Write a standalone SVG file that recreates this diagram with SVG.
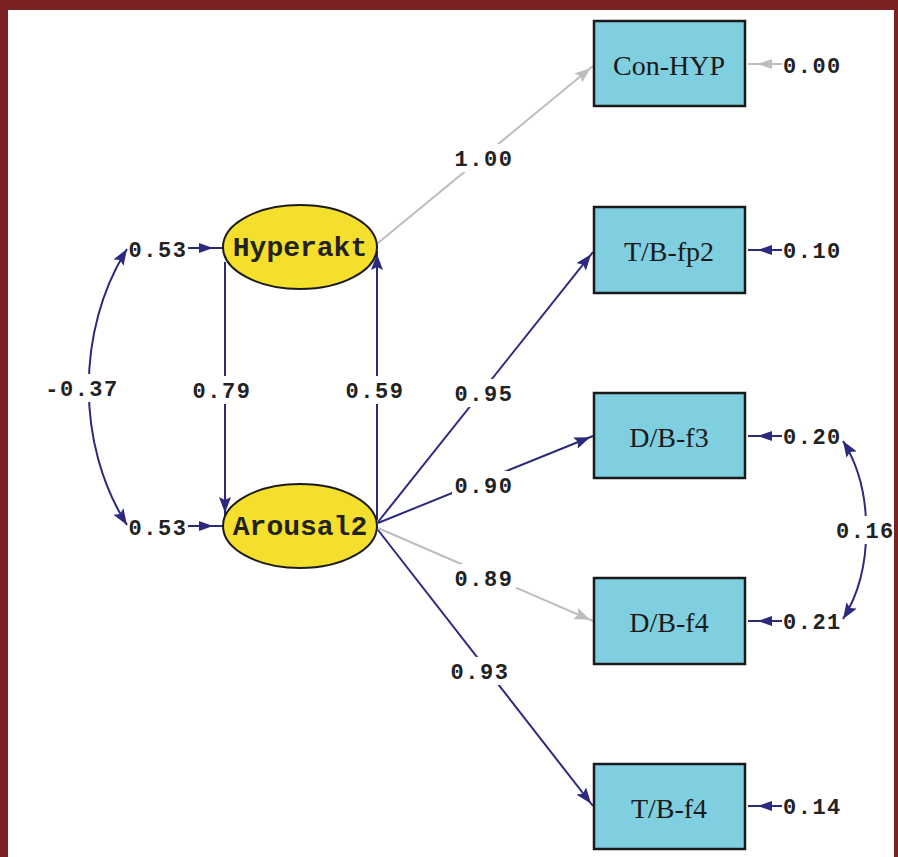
<svg xmlns="http://www.w3.org/2000/svg" width="898" height="857" viewBox="0 0 898 857">
  <style>
    .obs rect { fill: #80cfe0; stroke: #1a1a1a; stroke-width: 2.5; }
    .obs text { font-family: "Liberation Serif", "Times New Roman", serif; font-size: 28px; fill: #1a1a1a; text-anchor: middle; }
    .lat ellipse { fill: #f4e02c; stroke: #1a1a1a; stroke-width: 2; }
    .lat text { font-family: "Liberation Mono", "Courier New", monospace; font-weight: bold; font-size: 28px; fill: #222222; text-anchor: middle; }
    .num { font-family: "Liberation Mono", "Courier New", monospace; font-weight: bold; font-size: 22px; letter-spacing: 1.5px; fill: #222222; }
    .mid { text-anchor: middle; }
    .bg { fill: #ffffff; }
    .nv { stroke: #2b2a7e; stroke-width: 2; fill: none; }
    .gy { stroke: #bdbdbd; stroke-width: 2; fill: none; }
  </style>
  <defs>
    <!-- heads placed just short of the line end -->
    <marker id="hN" viewBox="0 0 22 12" markerUnits="userSpaceOnUse" markerWidth="22" markerHeight="12" refX="19" refY="6" orient="auto">
      <path d="M0,0 L16,6 L0,12 L3,6 z" fill="#2b2a7e"/>
    </marker>
    <marker id="hG" viewBox="0 0 22 12" markerUnits="userSpaceOnUse" markerWidth="22" markerHeight="12" refX="19" refY="6" orient="auto">
      <path d="M0,0 L16,6 L0,12 L3,6 z" fill="#bdbdbd"/>
    </marker>
    <!-- heads set back from the end (error terms) -->
    <marker id="eN" viewBox="0 0 26 10" markerUnits="userSpaceOnUse" markerWidth="26" markerHeight="10" refX="24" refY="5" orient="auto">
      <path d="M0,0 L14,5 L0,10 z" fill="#2b2a7e"/>
    </marker>
    <marker id="eG" viewBox="0 0 26 10" markerUnits="userSpaceOnUse" markerWidth="26" markerHeight="10" refX="24" refY="5" orient="auto">
      <path d="M0,0 L14,5 L0,10 z" fill="#bdbdbd"/>
    </marker>
    <!-- double-headed covariance arcs -->
    <marker id="cN" viewBox="0 0 18 12" markerUnits="userSpaceOnUse" markerWidth="18" markerHeight="12" refX="16" refY="6" orient="auto-start-reverse">
      <path d="M0,0 L16,6 L0,12 L3,6 z" fill="#2b2a7e"/>
    </marker>
  </defs>

  <!-- frame -->
  <rect x="0" y="0" width="898" height="857" fill="#7d2224"/>
  <rect x="8" y="10" width="886" height="847" fill="#ffffff"/>

  <!-- connectors -->
  <g id="connectors">
    <path class="gy" d="M378,243 L593,66" marker-end="url(#hG)"/>
    <path class="nv" d="M378,522 L593,252" marker-end="url(#hN)"/>
    <path class="nv" d="M378,523 L593,436" marker-end="url(#hN)"/>
    <path class="gy" d="M378,528 L593,621" marker-end="url(#hG)"/>
    <path class="nv" d="M378,530 L593,806" marker-end="url(#hN)"/>
    <path class="nv" d="M225,262 L225,516" marker-end="url(#hN)"/>
    <path class="nv" d="M377,520 L377,251" marker-end="url(#hN)"/>
    <path class="nv" d="M188,248 L223,248" marker-end="url(#eN)"/>
    <path class="nv" d="M188,526 L223,526" marker-end="url(#eN)"/>
    <path class="nv" d="M127,249 C76,330 76,445 127,525" marker-start="url(#cN)" marker-end="url(#cN)"/>
    <path class="gy" d="M782,64 L748,64" marker-end="url(#eG)"/>
    <path class="nv" d="M782,250 L748,250" marker-end="url(#eN)"/>
    <path class="nv" d="M782,436 L748,436" marker-end="url(#eN)"/>
    <path class="nv" d="M782,621 L748,621" marker-end="url(#eN)"/>
    <path class="nv" d="M782,806 L748,806" marker-end="url(#eN)"/>
    <path class="nv" d="M843,441 C874,490 874,570 843,619" marker-start="url(#cN)" marker-end="url(#cN)"/>
  </g>

  <!-- latent variables -->
  <g id="Hyperakt" class="lat">
    <ellipse cx="300" cy="247" rx="77" ry="42"/>
    <text x="300" y="256">Hyperakt</text>
  </g>
  <g id="Arousal2" class="lat">
    <ellipse cx="300" cy="526" rx="77" ry="42"/>
    <text x="300" y="535">Arousal2</text>
  </g>

  <!-- observed variables -->
  <g id="Con-HYP" class="obs">
    <rect x="594" y="21" width="151" height="85"/>
    <text x="669" y="75">Con-HYP</text>
  </g>
  <g id="TB-fp2" class="obs">
    <rect x="594" y="207" width="151" height="86"/>
    <text x="669" y="261">T/B-fp2</text>
  </g>
  <g id="DB-f3" class="obs">
    <rect x="594" y="393" width="151" height="85"/>
    <text x="669" y="447">D/B-f3</text>
  </g>
  <g id="DB-f4" class="obs">
    <rect x="594" y="578" width="151" height="86"/>
    <text x="669" y="632">D/B-f4</text>
  </g>
  <g id="TB-f4" class="obs">
    <rect x="594" y="764" width="151" height="85"/>
    <text x="669" y="818">T/B-f4</text>
  </g>

  <!-- coefficient labels -->
  <g id="labels">
    <rect class="bg" x="452" y="144" width="64" height="28"/>
    <text class="num mid" x="484" y="166">1.00</text>
    <rect class="bg" x="452" y="379" width="64" height="28"/>
    <text class="num mid" x="484" y="401">0.95</text>
    <rect class="bg" x="452" y="471" width="64" height="28"/>
    <text class="num mid" x="484" y="493">0.90</text>
    <rect class="bg" x="452" y="564" width="64" height="28"/>
    <text class="num mid" x="484" y="586">0.89</text>
    <rect class="bg" x="448" y="657" width="64" height="28"/>
    <text class="num mid" x="480" y="679">0.93</text>
    <rect class="bg" x="190" y="376" width="64" height="28"/>
    <text class="num mid" x="222" y="398">0.79</text>
    <rect class="bg" x="343" y="376" width="64" height="28"/>
    <text class="num mid" x="375" y="398">0.59</text>
    <rect class="bg" x="42" y="374" width="80" height="28"/>
    <text class="num mid" x="82" y="396">-0.37</text>
    <rect class="bg" x="836" y="516" width="58" height="28"/>
    <text class="num" x="836" y="538">0.16</text>
    <text class="num mid" x="158" y="257">0.53</text>
    <text class="num mid" x="158" y="535">0.53</text>
    <text class="num" x="783" y="73">0.00</text>
    <text class="num" x="783" y="258">0.10</text>
    <text class="num" x="783" y="444">0.20</text>
    <text class="num" x="783" y="629">0.21</text>
    <text class="num" x="783" y="814">0.14</text>
  </g>
</svg>
